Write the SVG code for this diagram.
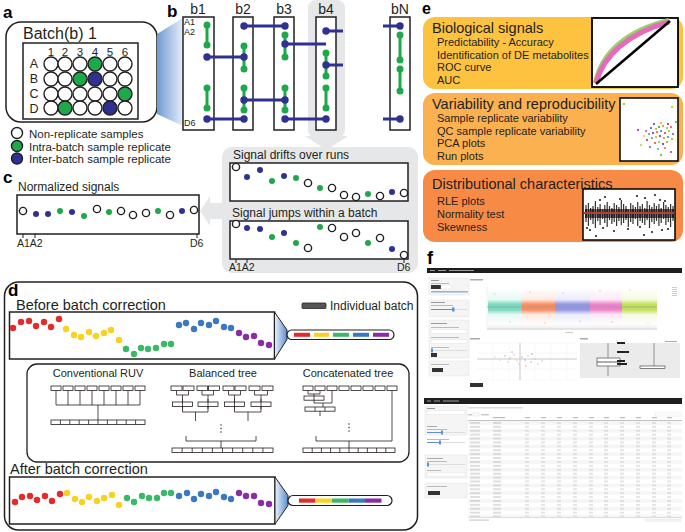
<svg xmlns="http://www.w3.org/2000/svg" width="685" height="532" viewBox="0 0 685 532">
<defs>
<style>
text{font-family:"Liberation Sans",Arial,sans-serif;fill:#231f20}
.lab{font-weight:bold;font-size:17px;fill:#000}
.t11{font-size:11px}
.t12{font-size:12px}
.t14{font-size:14.5px}
.mid{text-anchor:middle}
.bx{fill:#fff;stroke:#231f20;stroke-width:1.5}
.pc{fill:#fff;stroke:#231f20;stroke-width:1.4}
.pg{fill:#1da84a;stroke:#231f20;stroke-width:1.4}
.pb{fill:#2e3192;stroke:#231f20;stroke-width:1.4}
.gl{stroke:#1da84a;stroke-width:3;fill:none}
.bl{stroke:#2e3192;stroke-width:3;fill:none}
.gd{fill:#1da84a}
.bd{fill:#2e3192}
.o{fill:#fff;stroke:#231f20;stroke-width:1.4}
.gray{fill:#e6e7e8}
.tb{fill:#fff;stroke:#231f20;stroke-width:0.8}
.tl{fill:none;stroke:#231f20;stroke-width:0.8}
.R{fill:#e32b2b}.Y{fill:#fbd11f}.G{fill:#3bb866}.B{fill:#3a79c2}.P{fill:#8a2ca8}
.sb{fill:#f5f5f5;stroke:#e3e3e3;stroke-width:0.5}
</style>
<linearGradient id="funA" x1="0" y1="0" x2="1" y2="0">
<stop offset="0" stop-color="#6f9ad4"/><stop offset="1" stop-color="#e6eef9"/>
</linearGradient>
<linearGradient id="funD" x1="0" y1="0" x2="1" y2="0">
<stop offset="0" stop-color="#eaf1fa"/><stop offset="1" stop-color="#5b8fcf"/>
</linearGradient>
<linearGradient id="fade" x1="0" y1="0" x2="0" y2="1">
<stop offset="0" stop-color="#fff" stop-opacity="0"/><stop offset="0.3" stop-color="#fff" stop-opacity="0.15"/><stop offset="0.43" stop-color="#fff" stop-opacity="0.85"/><stop offset="0.57" stop-color="#fff" stop-opacity="0.85"/><stop offset="0.7" stop-color="#fff" stop-opacity="0.15"/><stop offset="1" stop-color="#fff" stop-opacity="0"/>
</linearGradient>
<mask id="rleMask" maskUnits="userSpaceOnUse" x="485" y="286" width="175" height="44">
<rect x="487" y="288" width="170" height="38" fill="url(#fade)"/>
</mask>
<pattern id="rows" patternUnits="userSpaceOnUse" x="468" y="421" width="214" height="7.8">
<rect x="0" y="0" width="214" height="3.9" fill="#f6f6f6"/>
<rect x="2" y="1.4" width="10" height="1.1" fill="#c4c4c4"/><rect x="25" y="1.4" width="8" height="1.1" fill="#c4c4c4"/>
<rect x="57" y="1.4" width="4" height="1.1" fill="#d0d0d0"/><rect x="73" y="1.4" width="4" height="1.1" fill="#d0d0d0"/><rect x="89" y="1.4" width="4" height="1.1" fill="#d0d0d0"/><rect x="105" y="1.4" width="4" height="1.1" fill="#d0d0d0"/><rect x="121" y="1.4" width="4" height="1.1" fill="#d0d0d0"/><rect x="136" y="1.4" width="4" height="1.1" fill="#d0d0d0"/><rect x="152" y="1.4" width="4" height="1.1" fill="#d0d0d0"/><rect x="168" y="1.4" width="4" height="1.1" fill="#d0d0d0"/><rect x="184" y="1.4" width="4" height="1.1" fill="#d0d0d0"/><rect x="199" y="1.4" width="4" height="1.1" fill="#d0d0d0"/>
<rect x="2" y="5.3" width="10" height="1.1" fill="#c4c4c4"/><rect x="25" y="5.3" width="8" height="1.1" fill="#c4c4c4"/>
<rect x="57" y="5.3" width="4" height="1.1" fill="#d0d0d0"/><rect x="73" y="5.3" width="4" height="1.1" fill="#d0d0d0"/><rect x="89" y="5.3" width="4" height="1.1" fill="#d0d0d0"/><rect x="105" y="5.3" width="4" height="1.1" fill="#d0d0d0"/><rect x="121" y="5.3" width="4" height="1.1" fill="#d0d0d0"/><rect x="136" y="5.3" width="4" height="1.1" fill="#d0d0d0"/><rect x="152" y="5.3" width="4" height="1.1" fill="#d0d0d0"/><rect x="168" y="5.3" width="4" height="1.1" fill="#d0d0d0"/><rect x="184" y="5.3" width="4" height="1.1" fill="#d0d0d0"/><rect x="199" y="5.3" width="4" height="1.1" fill="#d0d0d0"/>
</pattern>
</defs>
<rect width="685" height="532" fill="#fff"/>

<!-- ===== Panel a ===== -->
<g id="panel-a">
<text class="lab" x="3" y="18">a</text>
<rect class="bx" x="6" y="22" width="151" height="100" rx="15"/>
<text x="23" y="39" style="font-size:16px">Batch(b) 1</text>
<rect class="bx" x="23" y="43" width="115" height="76"/>
<g style="font-size:11.5px">
<text class="mid" x="51" y="56">1</text><text class="mid" x="65" y="56">2</text><text class="mid" x="80" y="56">3</text><text class="mid" x="95" y="56">4</text><text class="mid" x="110" y="56">5</text><text class="mid" x="125" y="56">6</text>
</g>
<g style="font-size:12.5px">
<text class="mid" x="34" y="68">A</text><text class="mid" x="34" y="83">B</text><text class="mid" x="34" y="98">C</text><text class="mid" x="34" y="113">D</text>
</g>
<g id="plate">
<circle class="pc" cx="51" cy="64" r="7"/><circle class="pc" cx="65" cy="64" r="7"/><circle class="pc" cx="80" cy="64" r="7"/><circle class="pg" cx="95" cy="64" r="7"/><circle class="pc" cx="110" cy="64" r="7"/><circle class="pc" cx="125" cy="64" r="7"/>
<circle class="pc" cx="51" cy="79" r="7"/><circle class="pc" cx="65" cy="79" r="7"/><circle class="pg" cx="80" cy="79" r="7"/><circle class="pb" cx="95" cy="79" r="7"/><circle class="pc" cx="110" cy="79" r="7"/><circle class="pc" cx="125" cy="79" r="7"/>
<circle class="pc" cx="51" cy="94" r="7"/><circle class="pc" cx="65" cy="94" r="7"/><circle class="pc" cx="80" cy="94" r="7"/><circle class="pc" cx="95" cy="94" r="7"/><circle class="pc" cx="110" cy="94" r="7"/><circle class="pg" cx="125" cy="94" r="7"/>
<circle class="pc" cx="51" cy="108" r="7"/><circle class="pg" cx="65" cy="108" r="7"/><circle class="pc" cx="80" cy="108" r="7"/><circle class="pc" cx="95" cy="108" r="7"/><circle class="pb" cx="110" cy="108" r="7"/><circle class="pc" cx="125" cy="108" r="7"/>
</g>
<g id="legend-a" style="font-size:11.5px">
<circle class="pc" cx="17" cy="133" r="5.5"/><text x="29" y="137.5">Non-replicate samples</text>
<circle class="pg" cx="17" cy="146" r="5.5"/><text x="29" y="150.5">Intra-batch sample replicate</text>
<circle class="pb" cx="17" cy="158.5" r="5.5"/><text x="29" y="163">Inter-batch sample replicate</text>
</g>
<polygon points="157,34 183,18 183,126 157,114" fill="url(#funA)"/>
</g>

<!-- ===== Panel b ===== -->
<g id="panel-b">
<text class="lab" x="167" y="17">b</text>
<rect class="gray" x="308" y="0" width="37" height="138" rx="8"/>
<polygon class="gray" points="305,136 348,136 326.5,150"/>
<g style="font-size:14px">
<text class="mid" x="198" y="14">b1</text><text class="mid" x="243" y="14">b2</text><text class="mid" x="284" y="14">b3</text><text class="mid" x="326" y="14">b4</text><text class="mid" x="400" y="14">bN</text>
</g>
<rect class="bx" x="183" y="17" width="31" height="113"/>
<rect class="bx" x="233" y="17" width="20" height="113"/>
<rect class="bx" x="274" y="17" width="20" height="113"/>
<rect class="bx" x="316" y="17" width="20" height="113"/>
<rect class="bx" x="390" y="17" width="20" height="113"/>
<g style="font-size:9px">
<text x="184" y="24.5">A1</text><text x="184" y="34.5">A2</text><text x="184" y="126">D6</text>
</g>
<g id="connectors-b">
<path class="bl" d="M207 57H244M207 119H244M244 26H285M244 100H285M285 44H326M285 119H326M326 31H343M326 65H343M383 26H400M383 119H400"/>
<path class="gl" d="M207 25V45M207 88V108M244 46V69M244 88V110M285 35V57M285 88V110M326 53V76M326 88V108M400 35V60M400 69V91"/>
</g>
<g id="dots-b">
<g class="gd">
<circle cx="207" cy="25" r="3.5"/><circle cx="207" cy="45" r="3.5"/><circle cx="207" cy="88" r="3.5"/><circle cx="207" cy="108" r="3.5"/>
<circle cx="244" cy="46" r="3.5"/><circle cx="244" cy="69" r="3.5"/><circle cx="244" cy="88" r="3.5"/><circle cx="244" cy="110" r="3.5"/>
<circle cx="285" cy="35" r="3.5"/><circle cx="285" cy="57" r="3.5"/><circle cx="285" cy="88" r="3.5"/><circle cx="285" cy="110" r="3.5"/>
<circle cx="326" cy="53" r="3.5"/><circle cx="326" cy="76" r="3.5"/><circle cx="326" cy="88" r="3.5"/><circle cx="326" cy="108" r="3.5"/>
<circle cx="400" cy="35" r="3.5"/><circle cx="400" cy="60" r="3.5"/><circle cx="400" cy="69" r="3.5"/><circle cx="400" cy="91" r="3.5"/>
</g>
<g class="bd">
<circle cx="207" cy="57" r="3.7"/><circle cx="207" cy="119" r="3.7"/>
<circle cx="244" cy="26" r="3.7"/><circle cx="244" cy="57" r="3.7"/><circle cx="244" cy="100" r="3.7"/><circle cx="244" cy="119" r="3.7"/>
<circle cx="285" cy="26" r="3.7"/><circle cx="285" cy="44" r="3.7"/><circle cx="285" cy="100" r="3.7"/><circle cx="285" cy="119" r="3.7"/>
<circle cx="326" cy="31" r="3.7"/><circle cx="326" cy="65" r="3.7"/><circle cx="326" cy="119" r="3.7"/>
<circle cx="400" cy="26" r="3.7"/><circle cx="400" cy="119" r="3.7"/>
</g>
</g>
</g>

<!-- ===== Signal panel (gray) ===== -->
<g id="signals">
<rect class="gray" x="222" y="147" width="196" height="126" rx="10"/>
<polygon class="gray" points="224,203 210,203 210,196 200,211 210,226 210,219 224,219"/>
<text class="t12" x="233" y="159">Signal drifts over runs</text>
<rect class="bx" x="230" y="163" width="178" height="38"/>
<g class="o">
<circle cx="236" cy="167" r="3.6"/><circle cx="308" cy="183" r="3.6"/><circle cx="332" cy="188" r="3.6"/><circle cx="344" cy="195" r="3.6"/><circle cx="356" cy="197" r="3.6"/><circle cx="380" cy="196" r="3.6"/><circle cx="404" cy="193" r="3.6"/>
</g>
<g class="bd"><circle cx="247" cy="177" r="3"/><circle cx="260" cy="170" r="3"/><circle cx="284" cy="176" r="3"/><circle cx="392" cy="192" r="3"/></g>
<g class="gd"><circle cx="272" cy="181" r="3"/><circle cx="296" cy="178" r="3"/><circle cx="320" cy="188" r="3"/><circle cx="368" cy="194" r="3"/></g>

<text class="t12" x="232" y="217">Signal jumps within a batch</text>
<rect class="bx" x="230" y="221" width="178" height="38"/>
<g class="o">
<circle cx="236" cy="224" r="3.6"/><circle cx="308" cy="248" r="3.6"/><circle cx="332" cy="228" r="3.6"/><circle cx="344" cy="237" r="3.6"/><circle cx="356" cy="233" r="3.6"/><circle cx="380" cy="238" r="3.6"/><circle cx="404" cy="255" r="3.6"/>
</g>
<g class="bd"><circle cx="247" cy="228" r="3"/><circle cx="260" cy="229" r="3"/><circle cx="284" cy="233" r="3"/><circle cx="392" cy="249" r="3"/></g>
<g class="gd"><circle cx="272" cy="237" r="3"/><circle cx="296" cy="243" r="3"/><circle cx="320" cy="227" r="3"/><circle cx="368" cy="243" r="3"/></g>
<path d="M236 259V263M247 259V263M404 259V263" stroke="#231f20" stroke-width="1"/>
<text x="229" y="271" style="font-size:10.5px">A1A2</text>
<text x="397" y="271" style="font-size:10.5px">D6</text>
</g>

<!-- ===== Panel c ===== -->
<g id="panel-c">
<text class="lab" x="3" y="183">c</text>
<text class="t12" x="18" y="191">Normalized signals</text>
<rect class="bx" x="17" y="195" width="182" height="39"/>
<g class="o">
<circle cx="23" cy="211" r="3.6"/><circle cx="97" cy="209" r="3.6"/><circle cx="121" cy="211" r="3.6"/><circle cx="133" cy="215" r="3.6"/><circle cx="146" cy="213" r="3.6"/><circle cx="170" cy="215" r="3.6"/><circle cx="194" cy="210" r="3.6"/>
</g>
<g class="bd"><circle cx="36" cy="214" r="3"/><circle cx="48" cy="214" r="3"/><circle cx="72" cy="212" r="3"/><circle cx="182" cy="211" r="3"/></g>
<g class="gd"><circle cx="60" cy="211" r="3"/><circle cx="84" cy="216" r="3"/><circle cx="109" cy="212" r="3"/><circle cx="158" cy="211" r="3"/></g>
<path d="M23 234V238M35 234V238M197 234V238" stroke="#231f20" stroke-width="1"/>
<text x="17" y="247" style="font-size:10.5px">A1A2</text>
<text x="190" y="247" style="font-size:10.5px">D6</text>
</g>

<!-- ===== Panel d ===== -->
<g id="panel-d">
<rect x="4.5" y="282" width="413" height="248" rx="14" fill="none" stroke="#231f20" stroke-width="1.5"/>
<text class="lab" x="8" y="296">d</text>
<text class="t14" x="16" y="310">Before batch correction</text>
<rect x="302" y="303" width="24" height="5.5" rx="1" fill="#555" stroke="#231f20" stroke-width="0.8"/>
<text class="t12" x="330" y="310">Individual batch</text>

<g id="before">
<rect class="bx" x="9.5" y="312" width="265" height="47"/>
<polygon points="274.5,312 287,330 287,339.5 274.5,359" fill="url(#funD)" stroke="#231f20" stroke-width="1"/>
<rect x="287" y="330" width="107" height="9.5" rx="4.75" fill="#fff" stroke="#231f20" stroke-width="1.2"/>
<rect class="R" x="294" y="332.8" width="16" height="4"/><rect class="Y" x="314" y="332.8" width="15" height="4"/><rect class="G" x="333" y="332.8" width="16" height="4"/><rect class="B" x="353" y="332.8" width="16" height="4"/><rect class="P" x="373" y="332.8" width="16" height="4"/>
<g class="R"><circle cx="13" cy="328" r="3.2"/><circle cx="21" cy="322" r="3.2"/><circle cx="29" cy="321" r="3.2"/><circle cx="36" cy="326" r="3.2"/><circle cx="44" cy="322" r="3.2"/><circle cx="51" cy="327" r="3.2"/><circle cx="59" cy="319" r="3.2"/></g>
<g class="Y"><circle cx="66" cy="329" r="3.2"/><circle cx="74" cy="335" r="3.2"/><circle cx="81" cy="337" r="3.2"/><circle cx="89" cy="332" r="3.2"/><circle cx="96" cy="336" r="3.2"/><circle cx="104" cy="333" r="3.2"/><circle cx="111" cy="330" r="3.2"/><circle cx="119" cy="340" r="3.2"/></g>
<g class="G"><circle cx="126" cy="349" r="3.2"/><circle cx="134" cy="354" r="3.2"/><circle cx="141" cy="348" r="3.2"/><circle cx="148" cy="349" r="3.2"/><circle cx="156" cy="348" r="3.2"/><circle cx="164" cy="344" r="3.2"/><circle cx="171" cy="344" r="3.2"/></g>
<g class="B"><circle cx="179" cy="325" r="3.2"/><circle cx="186" cy="323" r="3.2"/><circle cx="194" cy="329" r="3.2"/><circle cx="201" cy="323" r="3.2"/><circle cx="209" cy="325" r="3.2"/><circle cx="216" cy="321" r="3.2"/><circle cx="224" cy="327" r="3.2"/><circle cx="231" cy="328" r="3.2"/></g>
<g class="P"><circle cx="239" cy="333" r="3.2"/><circle cx="246" cy="337" r="3.2"/><circle cx="254" cy="336" r="3.2"/><circle cx="261" cy="343" r="3.2"/><circle cx="269" cy="345" r="3.2"/></g>
</g>

<g id="methods">
<rect x="27" y="364" width="382" height="98" rx="10" fill="none" stroke="#231f20" stroke-width="1.3"/>
<text class="t11 mid" x="98" y="377">Conventional RUV</text>
<text class="t11 mid" x="223" y="377">Balanced tree</text>
<text class="t11 mid" x="348" y="377">Concatenated tree</text>

<g id="tree-ruv">
<path class="tl" d="M56 390.5V405M68 390.5V405M80 390.5V405M92 390.5V405M104 390.5V405M116 390.5V405M128 390.5V405M140 390.5V405M56 405H140M98 405V420"/>
<rect class="tb" x="51" y="386" width="10" height="4.5"/><rect class="tb" x="63" y="386" width="10" height="4.5"/><rect class="tb" x="75" y="386" width="10" height="4.5"/><rect class="tb" x="87" y="386" width="10" height="4.5"/><rect class="tb" x="99" y="386" width="10" height="4.5"/><rect class="tb" x="111" y="386" width="10" height="4.5"/><rect class="tb" x="123" y="386" width="10" height="4.5"/><rect class="tb" x="135" y="386" width="10" height="4.5"/>
<rect class="tb" x="51" y="420" width="94" height="4.5"/>
<path class="tl" d="M60.4 420v4.5M69.8 420v4.5M79.2 420v4.5M88.6 420v4.5M98 420v4.5M107.4 420v4.5M116.8 420v4.5M126.2 420v4.5M135.6 420v4.5"/>
</g>

<g id="tree-balanced">
<path class="tl" d="M176.5 390.5V395M188.5 390.5V395M176.5 395H188.5M182.5 395V412M202 390.5V395M213.5 390.5V395M202 395H213.5M208 395V412M228.5 390.5V395M240.5 390.5V395M228.5 395H240.5M234.5 395V412M254.5 390.5V395M267.5 390.5V395M254.5 395H267.5M261 395V412M182.5 412H208M195.5 412V421M234.5 412H261M248 412V421M186 436V441H256V436M221 441V448"/>
<rect class="tb" x="171" y="386" width="11" height="4.5"/><rect class="tb" x="183" y="386" width="11" height="4.5"/><rect class="tb" x="197" y="386" width="10.5" height="4.5"/><rect class="tb" x="208.5" y="386" width="11" height="4.5"/><rect class="tb" x="223" y="386" width="11" height="4.5"/><rect class="tb" x="235" y="386" width="11" height="4.5"/><rect class="tb" x="249" y="386" width="11" height="4.5"/><rect class="tb" x="262" y="386" width="11" height="4.5"/>
<rect class="tb" x="172.5" y="402" width="20" height="4.5"/><rect class="tb" x="198" y="402" width="20" height="4.5"/><rect class="tb" x="224.5" y="402" width="20" height="4.5"/><rect class="tb" x="251" y="402" width="20" height="4.5"/>
<path class="tl" d="M182.5 399V409M208 399V409M234.5 399V409M261 399V409"/>
<g fill="#231f20"><circle cx="221" cy="425" r="0.7"/><circle cx="221" cy="428.5" r="0.7"/><circle cx="221" cy="432" r="0.7"/></g>
<rect class="tb" x="172" y="448" width="101" height="4.5"/>
<path class="tl" d="M182.1 448v4.5M192.2 448v4.5M202.3 448v4.5M212.4 448v4.5M222.5 448v4.5M232.6 448v4.5M242.7 448v4.5M252.8 448v4.5M262.9 448v4.5"/>
</g>

<g id="tree-concat">
<path class="tl" d="M308 390.5V394M320 390.5V394M308 394H320M314 394V403M332 390.5V403M314 403H332M323 403V411M320 411V416M392 390.5V441H316V436M349 441V448"/>
<rect class="tb" x="303" y="386" width="10" height="4.5"/><rect class="tb" x="315" y="386" width="10" height="4.5"/><rect class="tb" x="327" y="386" width="10" height="4.5"/><rect class="tb" x="339" y="386" width="10" height="4.5"/><rect class="tb" x="351" y="386" width="10" height="4.5"/><rect class="tb" x="363" y="386" width="10" height="4.5"/><rect class="tb" x="375" y="386" width="10" height="4.5"/><rect class="tb" x="387" y="386" width="10" height="4.5"/>
<rect class="tb" x="304" y="396" width="20" height="4.2"/><path class="tl" d="M314 396V400.2"/>
<rect class="tb" x="305" y="407" width="30" height="4.2"/><path class="tl" d="M315 407v4.2M325 407v4.2"/>
<g fill="#231f20"><circle cx="349" cy="424" r="0.7"/><circle cx="349" cy="427.5" r="0.7"/><circle cx="349" cy="431" r="0.7"/></g>
<rect class="tb" x="303" y="448" width="92" height="4.5"/>
<path class="tl" d="M312.2 448v4.5M321.4 448v4.5M330.6 448v4.5M339.8 448v4.5M349 448v4.5M358.2 448v4.5M367.4 448v4.5M376.6 448v4.5M385.8 448v4.5"/>
</g>
</g>

<text class="t14" x="10" y="474">After batch correction</text>
<g id="after">
<rect class="bx" x="9.5" y="477" width="265.5" height="47"/>
<polygon points="275,477 288,495.5 288,505.5 275,524" fill="url(#funD)" stroke="#231f20" stroke-width="1"/>
<rect x="288" y="495.5" width="104" height="10" rx="5" fill="#fff" stroke="#231f20" stroke-width="1.2"/>
<rect class="R" x="299" y="498.5" width="16.5" height="4.2"/><rect class="Y" x="315.5" y="498.5" width="16.5" height="4.2"/><rect class="G" x="332" y="498.5" width="16.5" height="4.2"/><rect class="B" x="348.5" y="498.5" width="16.5" height="4.2"/><rect class="P" x="365" y="498.5" width="16.5" height="4.2"/>
<g class="R"><circle cx="15" cy="502" r="3.2"/><circle cx="22" cy="497" r="3.2"/><circle cx="30" cy="496" r="3.2"/><circle cx="37" cy="500" r="3.2"/><circle cx="45" cy="496" r="3.2"/><circle cx="52" cy="501" r="3.2"/><circle cx="60" cy="494" r="3.2"/></g>
<g class="Y"><circle cx="67" cy="493" r="3.2"/><circle cx="75" cy="499" r="3.2"/><circle cx="82" cy="502" r="3.2"/><circle cx="89" cy="497" r="3.2"/><circle cx="97" cy="501" r="3.2"/><circle cx="104" cy="498" r="3.2"/><circle cx="112" cy="495" r="3.2"/><circle cx="119" cy="505" r="3.2"/></g>
<g class="G"><circle cx="127" cy="498" r="3.2"/><circle cx="134" cy="502" r="3.2"/><circle cx="142" cy="496" r="3.2"/><circle cx="149" cy="498" r="3.2"/><circle cx="157" cy="498" r="3.2"/><circle cx="164" cy="493" r="3.2"/><circle cx="171" cy="493" r="3.2"/></g>
<g class="B"><circle cx="179" cy="496" r="3.2"/><circle cx="187" cy="493" r="3.2"/><circle cx="194" cy="499" r="3.2"/><circle cx="201" cy="494" r="3.2"/><circle cx="209" cy="496" r="3.2"/><circle cx="216" cy="492" r="3.2"/><circle cx="224" cy="497" r="3.2"/><circle cx="231" cy="499" r="3.2"/></g>
<g class="P"><circle cx="239" cy="493" r="3.2"/><circle cx="246" cy="496" r="3.2"/><circle cx="254" cy="496" r="3.2"/><circle cx="261" cy="503" r="3.2"/><circle cx="269" cy="504" r="3.2"/></g>
</g>
</g>

<!-- ===== Panel e ===== -->
<g id="panel-e">
<text class="lab" x="422" y="14" style="font-size:16px">e</text>
<g id="e-bio">
<rect x="423" y="17" width="260" height="72" rx="12" fill="#fdc240"/>
<text class="t14" x="432" y="33">Biological signals</text>
<text class="t11" x="437" y="46">Predictability - Accuracy</text>
<text class="t11" x="437" y="58.5">Identification of DE metabolites</text>
<text class="t11" x="437" y="71">ROC curve</text>
<text class="t11" x="437" y="83.5">AUC</text>
<rect x="592" y="18" width="86" height="69" fill="#fff" stroke="#000" stroke-width="1.8"/>
<path d="M596 83 C602 53 627 31 669 21" fill="none" stroke="#9ad06a" stroke-width="6"/>
<path d="M596 83 C603 56 628 33 669 22" fill="none" stroke="#e46bb8" stroke-width="5"/>
<path d="M596 84 L670 21" stroke="#000" stroke-width="2.5"/>
</g>
<g id="e-var">
<rect x="423" y="93" width="260" height="72" rx="12" fill="#fcb150"/>
<text class="t14" x="432" y="109">Variability and reproducibility</text>
<text class="t11" x="437" y="122">Sample replicate variability</text>
<text class="t11" x="437" y="134.5">QC sample replicate variability</text>
<text class="t11" x="437" y="147">PCA plots</text>
<text class="t11" x="437" y="159.5">Run plots</text>
<rect x="620" y="98" width="58" height="63" fill="#fff" stroke="#000" stroke-width="1.5"/>
<g>
<rect x="623" y="103" width="2" height="2" fill="#9acd32"/><rect x="671" y="106" width="2" height="2" fill="#c8d040"/><rect x="653" y="123" width="2" height="2" fill="#8a5cd0"/><rect x="660" y="122" width="2" height="2" fill="#e8c040"/><rect x="667" y="123" width="2" height="2" fill="#e05050"/><rect x="675" y="121" width="2" height="2" fill="#60c0c0"/>
<rect x="637" y="129" width="2" height="2" fill="#b050d0"/><rect x="645" y="130" width="2" height="2" fill="#d070c0"/><rect x="650" y="127" width="2" height="2" fill="#7070e0"/><rect x="655" y="128" width="2" height="2" fill="#c0d040"/><rect x="658" y="126" width="2" height="2" fill="#60b060"/><rect x="662" y="125" width="2" height="2" fill="#e0a030"/><rect x="666" y="127" width="2" height="2" fill="#a0d050"/><rect x="670" y="126" width="2" height="2" fill="#f07070"/>
<rect x="643" y="135" width="2" height="2" fill="#e0e040"/><rect x="648" y="133" width="2" height="2" fill="#60c0b0"/><rect x="652" y="132" width="2" height="2" fill="#a050c0"/><rect x="656" y="131" width="2" height="2" fill="#ff8040"/><rect x="660" y="130" width="2" height="2" fill="#40a0e0"/><rect x="664" y="132" width="2" height="2" fill="#c060c0"/><rect x="668" y="130" width="2" height="2" fill="#b0d030"/><rect x="672" y="133" width="2" height="2" fill="#8080e0"/>
<rect x="646" y="139" width="2" height="2" fill="#d05090"/><rect x="651" y="137" width="2" height="2" fill="#70c070"/><rect x="655" y="136" width="2" height="2" fill="#e0c050"/><rect x="659" y="135" width="2" height="2" fill="#9050d0"/><rect x="663" y="137" width="2" height="2" fill="#f0a040"/><rect x="667" y="136" width="2" height="2" fill="#50b0d0"/><rect x="671" y="138" width="2" height="2" fill="#c0c030"/>
<rect x="654" y="142" width="2" height="2" fill="#e07070"/><rect x="658" y="141" width="2" height="2" fill="#a0e060"/><rect x="662" y="143" width="2" height="2" fill="#6060d0"/><rect x="666" y="141" width="2" height="2" fill="#e0b030"/>
<rect x="649" y="146" width="2" height="2" fill="#b070e0"/><rect x="657" y="148" width="2" height="2" fill="#70d0a0"/><rect x="664" y="147" width="2" height="2" fill="#f09050"/>
<rect x="660" y="154" width="2" height="2" fill="#90c040"/><rect x="670" y="151" width="2" height="2" fill="#d060a0"/><rect x="640" y="144" width="2" height="2" fill="#c0e060"/>
</g>
</g>
<g id="e-dist">
<rect x="423" y="170" width="260" height="72" rx="12" fill="#f78b45"/>
<text class="t14" x="432" y="189">Distributional characteristics</text>
<text class="t11" x="437" y="205">RLE plots</text>
<text class="t11" x="437" y="218">Normality test</text>
<text class="t11" x="437" y="231">Skewness</text>
<rect x="583" y="189" width="92" height="51" fill="#fff" stroke="#000" stroke-width="1.5"/>
<path stroke="#333" stroke-width="1.2" fill="none" d="M586 205V222M588.4 203V226M590.7 208V220M593 206V224M595.4 201V228M597.8 207V221M600.1 204V225M602.5 209V219M604.8 205V223M607.2 202V227M609.5 206V220M611.9 208V224M614.2 203V222M616.6 205V226M618.9 207V221M621.3 200V225M623.6 204V223M626 206V220M628.3 209V227M630.7 203V222M633 205V224M635.4 207V219M637.7 202V226M640.1 206V221M642.4 204V223M644.8 208V225M647.1 201V220M649.5 205V228M651.8 207V222M654.2 203V224M656.5 206V221M658.9 204V226M661.2 208V223M663.6 202V219M665.9 205V225M668.3 207V222M670.6 204V227M673 206V221"/>
<path stroke="#222" stroke-width="2" fill="none" d="M586 209V218M588.4 209V218M590.7 209V218M593 209V218M595.4 209V218M597.8 209V218M600.1 209V218M602.5 209V218M604.8 209V218M607.2 209V218M609.5 209V218M611.9 209V218M614.2 209V218M616.6 209V218M618.9 209V218M621.3 209V218M623.6 209V218M626 209V218M628.3 209V218M630.7 209V218M633 209V218M635.4 209V218M637.7 209V218M640.1 209V218M642.4 209V218M644.8 209V218M647.1 209V218M649.5 209V218M651.8 209V218M654.2 209V218M656.5 209V218M658.9 209V218M661.2 209V218M663.6 209V218M665.9 209V218M668.3 209V218M670.6 209V218M673 209V218"/>
<g fill="#222">
<circle cx="605" cy="197" r="1.1"/><circle cx="620" cy="199" r="1.1"/><circle cx="637" cy="196" r="1.1"/><circle cx="655" cy="195" r="1.1"/><circle cx="660" cy="200" r="1.1"/><circle cx="665" cy="201" r="1.1"/><circle cx="600" cy="200" r="1.1"/><circle cx="645" cy="198" r="1.1"/>
<circle cx="590" cy="230" r="1.1"/><circle cx="603" cy="228" r="1.1"/><circle cx="614" cy="231" r="1.1"/><circle cx="628" cy="229" r="1.1"/><circle cx="640" cy="227" r="1.1"/><circle cx="652" cy="232" r="1.1"/><circle cx="662" cy="230" r="1.1"/><circle cx="668" cy="229" r="1.1"/><circle cx="596" cy="236" r="1.1"/><circle cx="644" cy="235" r="1.1"/><circle cx="587" cy="228" r="1.1"/>
</g>
<path d="M584 213H674" stroke="#c0392b" stroke-width="2"/>
</g>
</g>

<!-- ===== Panel f ===== -->
<g id="panel-f">
<text class="lab" x="427" y="264" style="font-size:18px">f</text>
<g id="screenshot-1">
<rect x="427" y="268" width="255" height="5" fill="#1e1e1e"/>
<rect x="430" y="270" width="5" height="1" fill="#999"/><rect x="438" y="270" width="8" height="1" fill="#999"/><rect x="449" y="270" width="25" height="1" fill="#999"/>
<rect class="sb" x="429" y="278" width="40" height="17"/>
<rect x="431" y="280" width="8" height="1" fill="#999"/><rect x="431" y="283" width="18" height="1" fill="#bbb"/>
<rect x="431" y="285" width="10" height="4" fill="#333"/><rect x="441" y="285" width="10" height="4" fill="#fff" stroke="#ddd" stroke-width="0.4"/>
<rect x="431" y="291" width="37" height="1.5" fill="#8fb3e0"/>
<rect class="sb" x="429" y="300" width="40" height="17"/>
<rect x="431" y="302" width="14" height="1" fill="#999"/><rect x="431" y="305" width="22" height="1" fill="#bbb"/>
<rect x="431" y="309" width="36" height="1" fill="#ddd"/><rect x="431" y="309" width="22" height="1" fill="#5c8fd6"/><rect x="452" y="307.5" width="2.5" height="4" fill="#5c8fd6"/>
<rect class="sb" x="429" y="320" width="40" height="38"/>
<rect x="431" y="323" width="16" height="1" fill="#999"/><rect x="431" y="327" width="28" height="1" fill="#bbb"/>
<rect x="431" y="329.5" width="36" height="4" fill="#fff" stroke="#ddd" stroke-width="0.4"/>
<rect x="431" y="337" width="28" height="1" fill="#bbb"/><rect x="431" y="339.5" width="36" height="4" fill="#fff" stroke="#ddd" stroke-width="0.4"/>
<rect x="431" y="347" width="18" height="1" fill="#bbb"/><rect x="431" y="350" width="36" height="1" fill="#ddd"/><rect x="431" y="348.5" width="2" height="4" fill="#5c8fd6"/>
<rect x="431" y="353" width="6" height="4" fill="#333"/>
<rect class="sb" x="429" y="361" width="40" height="15"/>
<rect x="431" y="364" width="18" height="1" fill="#bbb"/><rect x="432" y="368" width="11" height="4" fill="#333"/>
<rect x="470" y="279" width="13" height="1.5" fill="#aaa"/>
<path d="M487 287V326M487 326H657" stroke="#e4e4e4" stroke-width="0.6"/>
<g mask="url(#rleMask)">
<rect x="488" y="288" width="34" height="38" fill="#62d3b5"/>
<rect x="522" y="288" width="33" height="38" fill="#fa7a45"/>
<rect x="555" y="288" width="35" height="38" fill="#7f84e0"/>
<rect x="590" y="288" width="32" height="38" fill="#ec6cc2"/>
<rect x="622" y="288" width="35" height="38" fill="#b9dc3c"/>
</g>
<g>
<circle cx="495" cy="294" r="0.5" fill="#62d3b5"/><circle cx="510" cy="322" r="0.5" fill="#62d3b5"/><circle cx="530" cy="292" r="0.5" fill="#fa7a45"/><circle cx="545" cy="323" r="0.5" fill="#fa7a45"/><circle cx="563" cy="293" r="0.5" fill="#7f84e0"/><circle cx="580" cy="321" r="0.5" fill="#7f84e0"/><circle cx="600" cy="291" r="0.5" fill="#ec6cc2"/><circle cx="612" cy="322" r="0.5" fill="#ec6cc2"/><circle cx="630" cy="290" r="0.5" fill="#b9dc3c"/><circle cx="648" cy="323" r="0.5" fill="#b9dc3c"/>
</g>
<path d="M487 307H657" stroke="#999" stroke-width="0.7"/>
<g fill="#ccc"><rect x="672" y="287" width="5" height="1"/><rect x="672" y="289" width="5" height="1"/><rect x="672" y="291" width="5" height="1"/><rect x="672" y="293" width="5" height="1"/><rect x="672" y="295" width="5" height="1"/></g>
<rect x="487" y="327.5" width="170" height="2.5" fill="#e4e4e4"/>
<rect x="565" y="332" width="8" height="1" fill="#ccc"/>
<rect x="470" y="338" width="10" height="1.5" fill="#aaa"/><rect x="580" y="338" width="8" height="1.5" fill="#aaa"/>
<g id="pca">
<path d="M477 343H577M477 353H577M477 369H577M477 380H577M493 343V380M509 343V380M535 343V380M551 343V380M567 343V380" stroke="#eee" stroke-width="0.5"/>
<path d="M477 359H577M520 343V380" stroke="#bbb" stroke-width="0.8"/>
<g>
<circle cx="505" cy="356" r="0.8" fill="#e0a0c0"/><circle cx="510" cy="358" r="0.8" fill="#a0c0e0"/><circle cx="514" cy="355" r="0.8" fill="#f0c070"/><circle cx="517" cy="361" r="0.8" fill="#c0e090"/><circle cx="522" cy="357" r="0.8" fill="#f09090"/><circle cx="525" cy="360" r="0.8" fill="#b0a0e0"/><circle cx="528" cy="356" r="0.8" fill="#e0c0a0"/><circle cx="531" cy="362" r="0.8" fill="#90d0c0"/><circle cx="535" cy="359" r="0.8" fill="#f0b0d0"/><circle cx="538" cy="364" r="0.8" fill="#c0c0f0"/><circle cx="500" cy="360" r="0.8" fill="#f0d080"/><circle cx="512" cy="352" r="0.8" fill="#d0a0f0"/><circle cx="519" cy="364" r="0.8" fill="#a0e0b0"/><circle cx="526" cy="366" r="0.8" fill="#f0a0a0"/><circle cx="542" cy="361" r="0.8" fill="#b0d0f0"/><circle cx="495" cy="357" r="0.8" fill="#e0e090"/><circle cx="508" cy="362" r="0.8" fill="#f0c0e0"/><circle cx="532" cy="354" r="0.8" fill="#a0a0e0"/>
</g>
</g>
<g id="boxplot">
<rect x="580" y="343" width="100" height="35" fill="#ebebeb"/>
<path d="M608 343V358M608 366V376M654 343V366" stroke="#555" stroke-width="0.6"/>
<rect x="597" y="358" width="23" height="8" fill="#fff" stroke="#333" stroke-width="0.6"/>
<path d="M597 362H620" stroke="#333" stroke-width="0.8"/>
<rect x="640" y="366" width="25" height="2.5" fill="#fff" stroke="#333" stroke-width="0.6"/>
<rect x="617" y="342" width="8" height="2" fill="#222"/><rect x="617" y="351" width="12" height="2" fill="#222"/><rect x="617" y="360" width="8" height="2" fill="#222"/><rect x="617" y="363" width="10" height="2" fill="#222"/>
<rect x="665" y="341" width="12" height="1" fill="#aaa"/>
</g>
<rect x="470" y="383" width="13" height="4" fill="#333"/>
</g>
<g id="screenshot-2">
<rect x="424" y="398" width="258" height="6" fill="#1e1e1e"/>
<rect x="427" y="400.5" width="4" height="1" fill="#999"/><rect x="434" y="400.5" width="6" height="1" fill="#999"/><rect x="443" y="400.5" width="16" height="1" fill="#999"/>
<rect class="sb" x="425" y="406" width="42" height="29"/>
<rect x="427" y="408" width="8" height="1" fill="#999"/><rect x="427" y="410.5" width="38" height="4" fill="#fff" stroke="#ddd" stroke-width="0.4"/>
<rect x="427" y="426" width="10" height="1" fill="#aaa"/><rect x="427" y="429" width="20" height="1" fill="#bbb"/><rect x="427" y="432" width="38" height="1" fill="#ddd"/><rect x="427" y="432" width="15" height="1" fill="#5c8fd6"/><rect x="441" y="430.5" width="2" height="4" fill="#5c8fd6"/>
<rect x="427" y="439" width="22" height="1" fill="#bbb"/><rect x="427" y="442" width="38" height="1" fill="#ddd"/><rect x="427" y="442" width="13" height="1" fill="#5c8fd6"/><rect x="439" y="440.5" width="2" height="4" fill="#5c8fd6"/>
<rect class="sb" x="425" y="455" width="42" height="23"/>
<rect x="427" y="458" width="16" height="1" fill="#aaa"/><rect x="427" y="461" width="20" height="1" fill="#bbb"/><rect x="427" y="464" width="38" height="1" fill="#ddd"/><rect x="427" y="462.5" width="2" height="4" fill="#5c8fd6"/>
<rect x="427" y="470" width="14" height="1" fill="#bbb"/><rect x="427" y="472.5" width="38" height="4" fill="#fff" stroke="#ddd" stroke-width="0.4"/>
<rect class="sb" x="425" y="483" width="42" height="15"/>
<rect x="427" y="486" width="20" height="1" fill="#bbb"/><rect x="428" y="491" width="12" height="4" fill="#333"/>
<rect x="468" y="407" width="55" height="1.5" fill="#ddd"/>
<rect x="468" y="414" width="4" height="1.5" fill="#ccc"/><rect x="473" y="413" width="6" height="3" fill="#fff" stroke="#ccc" stroke-width="0.4"/><rect x="481" y="414" width="8" height="1.5" fill="#ccc"/>
<rect x="655" y="413" width="27" height="3" fill="#fff" stroke="#ddd" stroke-width="0.4"/>
<g fill="#bbb"><rect x="493" y="417" width="12" height="1.2"/><rect x="525" y="417" width="5" height="1.2"/><rect x="541" y="417" width="5" height="1.2"/><rect x="557" y="417" width="5" height="1.2"/><rect x="573" y="417" width="5" height="1.2"/><rect x="589" y="417" width="5" height="1.2"/><rect x="604" y="417" width="5" height="1.2"/><rect x="620" y="417" width="5" height="1.2"/><rect x="636" y="417" width="5" height="1.2"/><rect x="652" y="417" width="5" height="1.2"/><rect x="667" y="417" width="5" height="1.2"/></g>
<path d="M468 420.5H682" stroke="#999" stroke-width="0.6"/>
<rect x="468" y="421" width="214" height="96" fill="url(#rows)"/>
<path d="M468 517.5H682" stroke="#bbb" stroke-width="0.5"/>
<rect x="469" y="519.5" width="20" height="1.2" fill="#ccc"/>
<rect x="645" y="519" width="36" height="2.5" fill="#f3f3f3" stroke="#ddd" stroke-width="0.3"/>
</g>
</g>
</svg>
